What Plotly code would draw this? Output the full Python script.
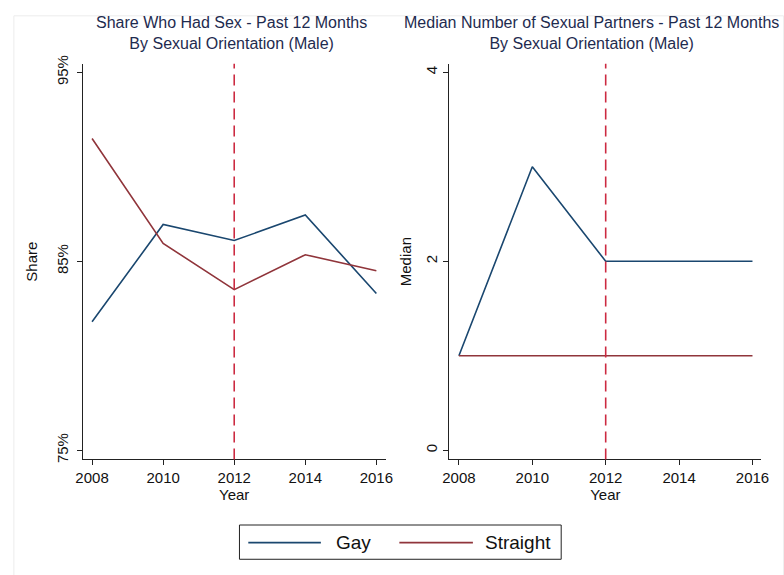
import plotly.graph_objects as go

# Survey years and series values
years = [2008, 2010, 2012, 2014, 2016]
share_gay = [81.8, 86.95, 86.1, 87.45, 83.3]
share_straight = [91.5, 85.95, 83.5, 85.35, 84.5]
median_gay = [1, 3, 2, 2, 2]
median_straight = [1, 1, 1, 1, 1]

share_ticks = [75, 85, 95]
share_tick_labels = ["75%", "85%", "95%"]
median_ticks = [0, 2, 4]
year_ticks = [2008, 2010, 2012, 2014, 2016]
policy_year = 2012

GAY_COLOR = "#1a476f"
STRAIGHT_COLOR = "#90353b"
REF_COLOR = "#cc2a41"
TITLE_COLOR = "#1e2b4f"
FONT = "Liberation Sans, Arial, Helvetica, sans-serif"

fig = go.Figure()

fig.add_trace(go.Scatter(x=years, y=share_gay, mode="lines", name="Gay",
                         line=dict(color=GAY_COLOR, width=1.6), xaxis="x", yaxis="y"))
fig.add_trace(go.Scatter(x=years, y=share_straight, mode="lines", name="Straight",
                         line=dict(color=STRAIGHT_COLOR, width=1.6), xaxis="x", yaxis="y"))
fig.add_trace(go.Scatter(x=years, y=median_gay, mode="lines", name="Gay",
                         line=dict(color=GAY_COLOR, width=1.6), xaxis="x2", yaxis="y2"))
fig.add_trace(go.Scatter(x=years, y=median_straight, mode="lines", name="Straight",
                         line=dict(color=STRAIGHT_COLOR, width=1.6), xaxis="x2", yaxis="y2"))

axis_common = dict(
    showline=True, linecolor="#222222", linewidth=1,
    ticks="outside", ticklen=5, tickcolor="#222222", tickwidth=1,
    showgrid=False, zeroline=False,
    tickfont=dict(family=FONT, size=15, color="#111111"),
)

y_dom = [1 - 460 / 575, 1 - 56 / 575]

fig.update_layout(
    width=784, height=575,
    margin=dict(l=0, r=0, t=0, b=0),
    paper_bgcolor="white", plot_bgcolor="white",
    showlegend=False,
    font=dict(family=FONT, color="#111111"),
    xaxis=dict(domain=[77.3 / 784, 386 / 784], range=[2007.74, 2016.26],
               tickvals=year_ticks, anchor="y",
               title=dict(text="Year", font=dict(family=FONT, size=15), standoff=1),
               **axis_common),
    yaxis=dict(domain=y_dom, range=[74.52, 95.45], anchor="x",
               tickvals=share_ticks, ticktext=share_tick_labels, tickangle=-90,
               ticklabelstandoff=3,
               title=dict(text="Share", font=dict(family=FONT, size=15), standoff=12),
               **axis_common),
    xaxis2=dict(domain=[451 / 784, 769 / 784], range=[2007.74, 2016.24],
                tickvals=year_ticks, anchor="y2",
                title=dict(text="Year", font=dict(family=FONT, size=15), standoff=1),
                **axis_common),
    yaxis2=dict(domain=y_dom, range=[-0.097, 4.09], anchor="x2",
                tickvals=median_ticks, tickangle=-90,
                title=dict(text="Median", font=dict(family=FONT, size=15), standoff=8),
                **axis_common),
)

# Policy-year reference lines
for xr, yr in (("x", "y domain"), ("x2", "y2 domain")):
    fig.add_shape(type="line", xref=xr, yref=yr, x0=policy_year, x1=policy_year,
                  y0=0, y1=1, line=dict(color=REF_COLOR, width=1.6, dash="11px,6px"))

# Panel titles
fig.add_annotation(text="Share Who Had Sex - Past 12 Months<br>By Sexual Orientation (Male)",
                   xref="paper", yref="paper", x=229 / 784, y=1 - 25 / 575,
                   showarrow=False, font=dict(family=FONT, size=16, color=TITLE_COLOR),
                   xanchor="center", yanchor="middle", align="center")
fig.add_annotation(text="Median Number of Sexual Partners - Past 12 Months<br>By Sexual Orientation (Male)",
                   xref="paper", yref="paper", x=596 / 784, y=1 - 25 / 575,
                   showarrow=False, font=dict(family=FONT, size=16, color=TITLE_COLOR),
                   xanchor="center", yanchor="middle", align="center")

# Outer graph-region frame
fig.add_shape(type="rect", xref="paper", yref="paper", x0=7 / 784, x1=1.01,
              y0=-0.01, y1=1 - 7 / 575, line=dict(color="#ececec", width=1), layer="below")

# Legend box drawn beneath the panels
fig.add_shape(type="rect", xref="paper", yref="paper",
              x0=237 / 784, x1=565 / 784, y0=1 - 562 / 575, y1=1 - 527 / 575,
              line=dict(color="#222222", width=1))
legend_items = [("Gay", GAY_COLOR, 246, 320, 333), ("Straight", STRAIGHT_COLOR, 400, 475, 485)]
ly = 1 - 545 / 575
for label, color, lx0, lx1, tx in legend_items:
    fig.add_shape(type="line", xref="paper", yref="paper",
                  x0=lx0 / 784, x1=lx1 / 784, y0=ly, y1=ly,
                  line=dict(color=color, width=1.6))
    fig.add_annotation(text=label, xref="paper", yref="paper", x=tx / 784, y=ly,
                       showarrow=False, xanchor="left", yanchor="middle",
                       font=dict(family=FONT, size=19, color="#111111"))

fig.write_html("out.html")
